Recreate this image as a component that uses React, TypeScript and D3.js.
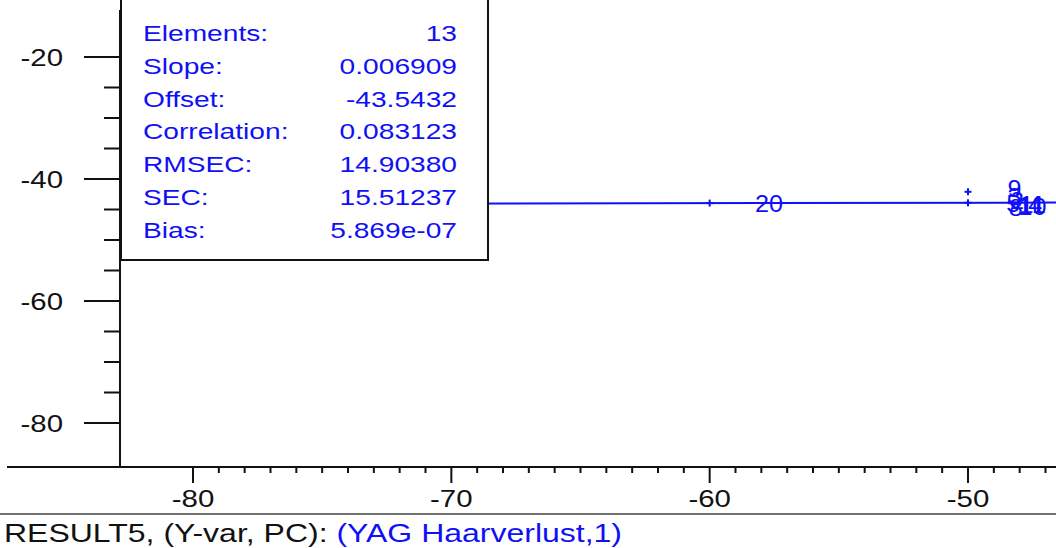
import React from 'react'
import * as d3 from 'd3'

const legendLabels = ['Elements:', 'Slope:', 'Offset:', 'Correlation:', 'RMSEC:', 'SEC:', 'Bias:']
const legendValues = ['13', '0.006909', '-43.5432', '0.083123', '14.90380', '15.51237', '5.869e-07']

const slope = 0.006909
const offset = -43.5432

const xMajor = [-80, -70, -60, -50]
const yMajor = [-20, -40, -60, -80]

// samples: measured (x) vs predicted (y); empty name = plain marker
const sampleX = [-60, -57.7, -50, -50, -48.2, -48.2, -48.15, -48.25, -48.1, -47.8, -47.5, -47.5, -47.4]
const sampleY = [-43.95, -43.95, -42.1, -43.9, -41.6, -42.9, -44.6, -44.0, -43.6, -44.3, -44.1, -44.5, -44.2]
const sampleName = ['', '20', '', '', '9', '3', '8', '5', '2', '1', '11', '10', '4']

const W = 1056
const H = 548
const blue = '#1010f5'
const font = '"Liberation Sans", Arial, sans-serif'
const SX = 1.28 // the original screenshot is stretched sideways

const StretchText = ({ x, y, size, anchor = 'start', fill = '#111', weight = 'normal', sx = SX, children }: any) => (
  <text
    transform={`translate(${x},${y}) scale(${sx},1)`}
    fontSize={size}
    fontFamily={font}
    fontWeight={weight}
    textAnchor={anchor}
    fill={fill}
  >
    {children}
  </text>
)

const App = () => {
  const x = d3.scaleLinear().domain([-80, -50]).range([193, 968])
  const y = d3.scaleLinear().domain([-20, -80]).range([57, 423])

  const axisX = 120
  const axisY = 467
  const top = 10

  const xMinor = d3.range(-80, -46, 1).filter((v) => !xMajor.includes(v))
  const yMinor = d3.range(-20, -81, -5).filter((v) => !yMajor.includes(v))

  const xLeft = x.invert(axisX)
  const xRight = x.invert(W)
  const fit = d3.line<number>().x((v) => x(v)).y((v) => y(offset + slope * v))

  return (
    <svg width={W} height={H} style={{ position: 'absolute', left: 0, top: 0, background: '#fff' }}>
      {/* regression line */}
      <path d={fit([xLeft, xRight]) || ''} stroke={blue} strokeWidth={2} fill="none" />

      {/* samples */}
      {sampleX.map((v, i) => {
        const px = x(v)
        const py = y(sampleY[i])
        if (!sampleName[i]) {
          return (
            <g key={i} stroke={blue} strokeWidth={2}>
              <line x1={px - 3.5} x2={px + 3.5} y1={py} y2={py} />
              <line x1={px} x2={px} y1={py - 3.5} y2={py + 3.5} />
            </g>
          )
        }
        return (
          <StretchText key={i} x={px} y={py + 8.5} size={24} sx={1.05} anchor="middle" fill={blue}>
            {sampleName[i]}
          </StretchText>
        )
      })}

      {/* statistics box */}
      <rect x={121} y={-10} width={367} height={270} fill="#fff" stroke="#111" strokeWidth={2} />
      {legendLabels.map((l, i) => (
        <g key={l}>
          <StretchText x={143} y={41 + i * 32.8} size={22} fill={blue}>
            {l}
          </StretchText>
          <StretchText x={457} y={41 + i * 32.8} size={22} anchor="end" fill={blue}>
            {legendValues[i]}
          </StretchText>
        </g>
      ))}

      {/* y axis */}
      <g stroke="#111" strokeWidth={2}>
        <line x1={axisX} x2={axisX} y1={top} y2={axisY} />
        {yMajor.map((v) => (
          <line key={v} x1={84} x2={axisX} y1={y(v)} y2={y(v)} />
        ))}
        {yMinor.map((v) => (
          <line key={v} x1={104} x2={axisX} y1={y(v)} y2={y(v)} />
        ))}
      </g>
      {yMajor.map((v) => (
        <StretchText key={v} x={63} y={y(v) + 8.5} size={23} anchor="end">
          {v}
        </StretchText>
      ))}

      {/* x axis */}
      <g stroke="#111" strokeWidth={2}>
        <line x1={7} x2={W} y1={axisY} y2={axisY} />
        {xMajor.map((v) => (
          <line key={v} x1={x(v)} x2={x(v)} y1={axisY} y2={axisY + 16} />
        ))}
        {xMinor.map((v) => (
          <line key={v} x1={x(v)} x2={x(v)} y1={axisY} y2={axisY + 6} />
        ))}
      </g>
      {xMajor.map((v) => (
        <StretchText key={v} x={x(v)} y={507} size={23} anchor="middle">
          {v}
        </StretchText>
      ))}

      <line x1={0} x2={W} y1={514} y2={514} stroke="#444" strokeWidth={1.5} />
      <StretchText x={4} y={542} size={25}>
        RESULT5, (Y-var, PC): <tspan fill={blue}>(YAG Haarverlust,1)</tspan>
      </StretchText>
    </svg>
  )
}

export default App
